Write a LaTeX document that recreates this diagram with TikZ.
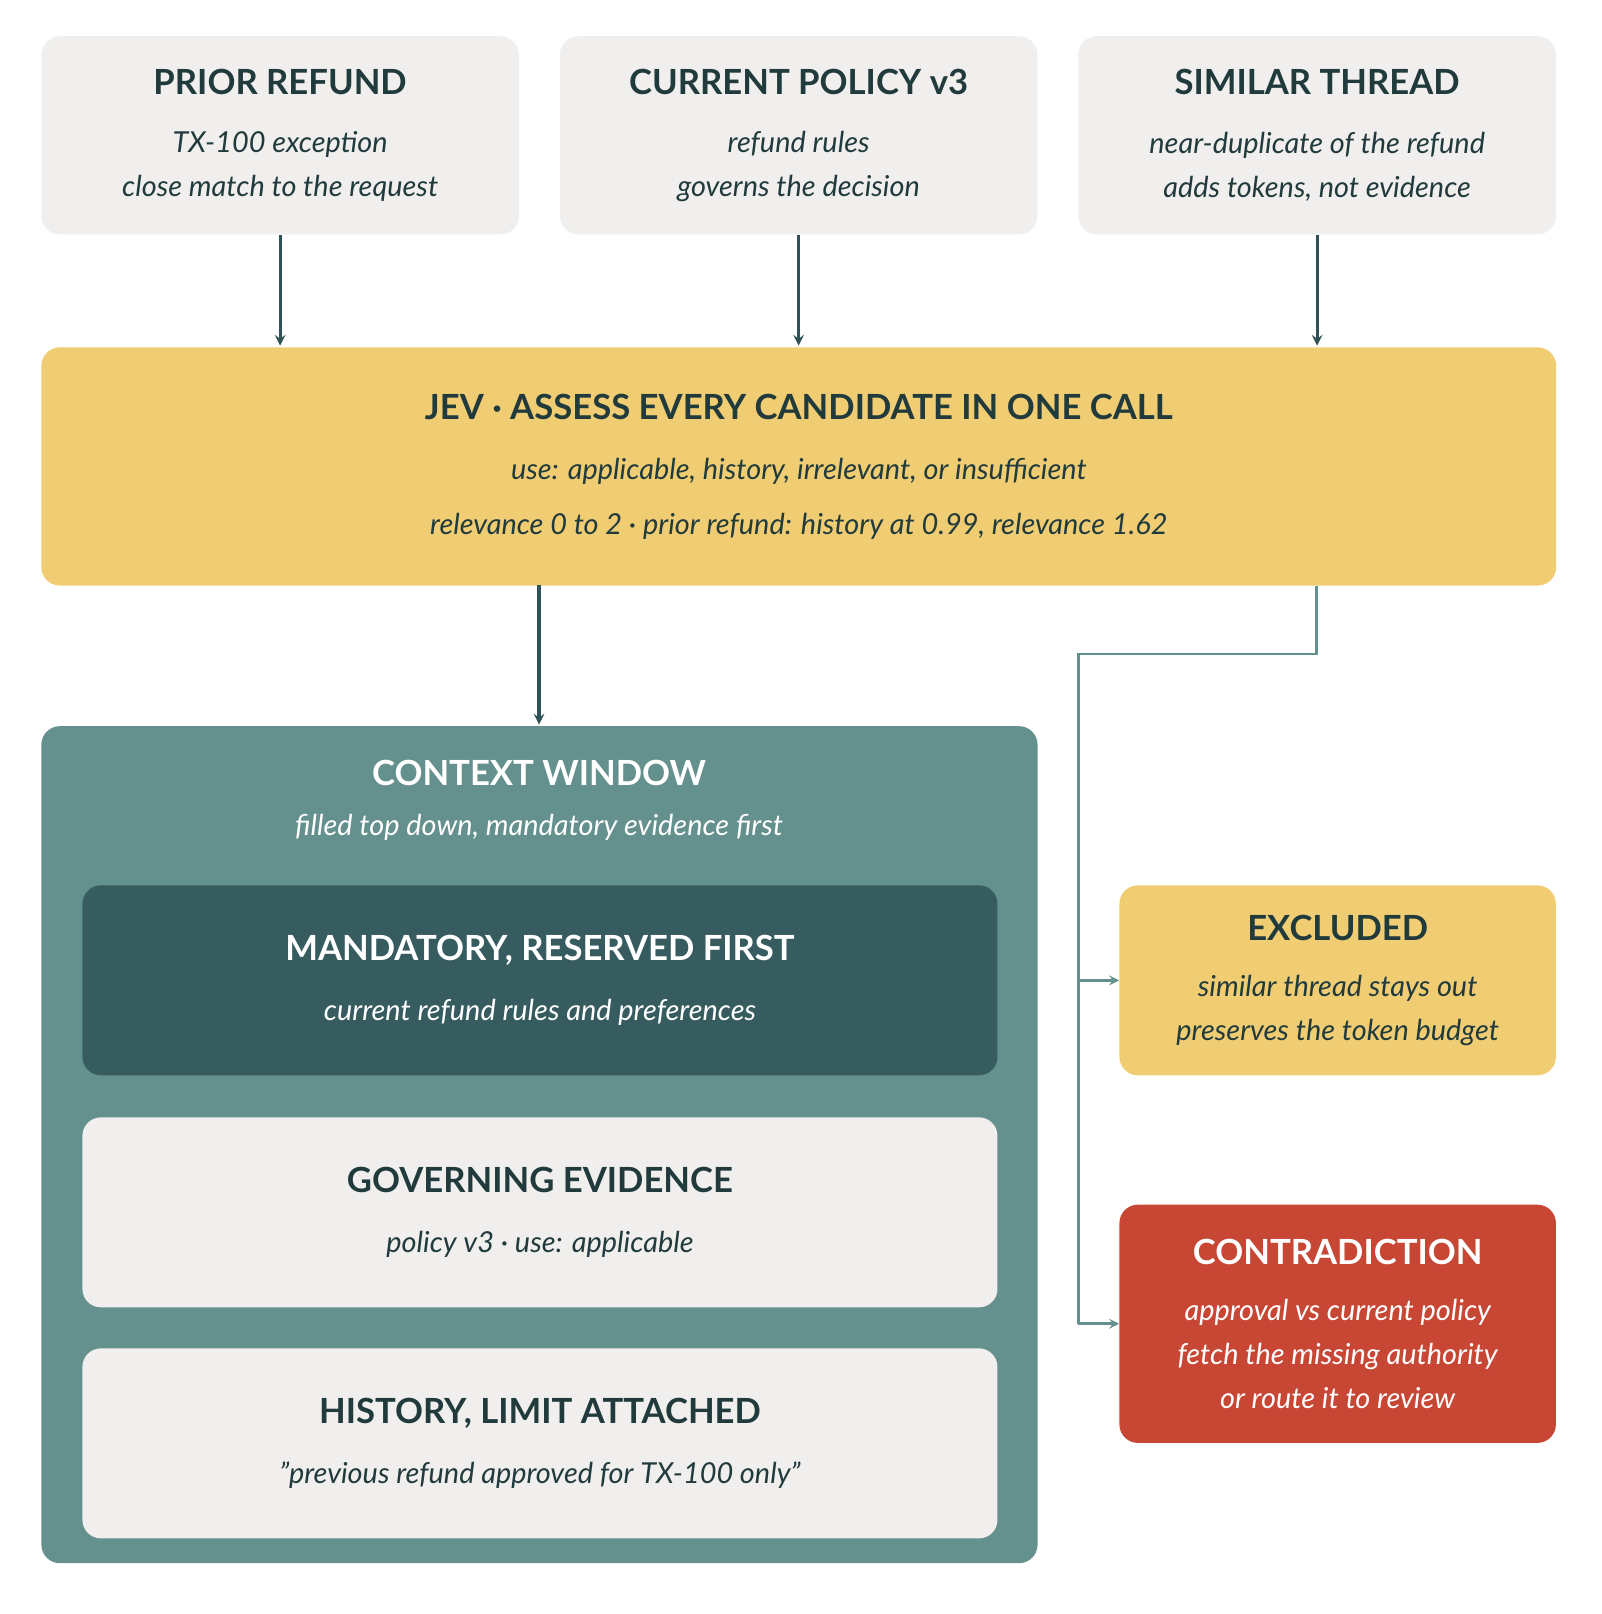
\documentclass[tikz,border=0pt]{standalone}
\usepackage{fontspec}
\setmainfont{Lato}
\usetikzlibrary{positioning}
\definecolor{ink}{HTML}{213A3C}
\definecolor{arr}{HTML}{2F5257}
\definecolor{tealmid}{HTML}{64908D}
\definecolor{tealdark}{HTML}{365C60}
\definecolor{paper}{HTML}{F0EFED}
\definecolor{gold}{HTML}{F0CD72}
\definecolor{brick}{HTML}{C84634}
\newcommand{\ttlfont}{\fontsize{24}{30}\selectfont\bfseries\upshape}
\begin{document}
\begin{tikzpicture}[x=0.025cm,y=-0.025cm,>=stealth,
  box/.style={anchor=north west,rounded corners=0.45cm,inner sep=0pt,align=center,text=ink,
    font=\fontsize{20}{30.5}\selectfont\itshape},
  link/.style={->,draw=arr,line width=2.2pt,shorten >=1pt},
  side/.style={->,draw=tealmid,line width=2pt}]
  \useasboundingbox (0,0) rectangle (1560,1572);

  % sources
  \node[box,fill=paper,minimum width=11.625cm,minimum height=4.825cm] (prior) at (40,35)
    {{\ttlfont PRIOR REFUND}\\[0.35cm]TX-100 exception\\close match to the request};
  \node[box,fill=paper,minimum width=11.625cm,minimum height=4.825cm] (policy) at (545,35)
    {{\ttlfont CURRENT POLICY v3}\\[0.35cm]refund rules\\governs the decision};
  \node[box,fill=paper,minimum width=11.625cm,minimum height=4.825cm] (thread) at (1050,35)
    {{\ttlfont SIMILAR THREAD}\\[0.35cm]near-duplicate of the refund\\adds tokens, not evidence};

  % assessment
  \node[box,fill=gold,minimum width=36.875cm,minimum height=5.8cm] (jev) at (40,338)
    {{\ttlfont JEV · ASSESS EVERY CANDIDATE IN ONE CALL}\\[0.4cm]
     use: applicable, history, irrelevant, or insufficient\\[0.25cm]
     relevance 0 to 2 · prior refund: history at 0.99, relevance 1.62};

  % context window
  \node[box,fill=tealmid,minimum width=24.25cm,minimum height=20.375cm] (ctx) at (40,707) {};
  \node[box,anchor=north,text=white] (ctxt) at (525,740)
    {{\ttlfont CONTEXT WINDOW}\\[0.15cm]filled top down, mandatory evidence first};
  \node[box,fill=tealdark,text=white,minimum width=22.275cm,minimum height=4.625cm] (mand) at (80,862)
    {{\ttlfont MANDATORY, RESERVED FIRST}\\[0.4cm]current refund rules and preferences};
  \node[box,fill=paper,minimum width=22.275cm,minimum height=4.625cm] (gov) at (80,1088)
    {{\ttlfont GOVERNING EVIDENCE}\\[0.4cm]policy v3 · use: applicable};
  \node[box,fill=paper,minimum width=22.275cm,minimum height=4.625cm] (hist) at (80,1313)
    {{\ttlfont HISTORY, LIMIT ATTACHED}\\[0.4cm]"previous refund approved for TX-100 only"};

  % side outcomes
  \node[box,fill=gold,minimum width=10.625cm,minimum height=4.625cm] (excl) at (1090,862)
    {{\ttlfont EXCLUDED}\\[0.3cm]similar thread stays out\\preserves the token budget};
  \node[box,fill=brick,text=white,minimum width=10.625cm,minimum height=5.8cm] (contra) at (1090,1173)
    {{\ttlfont CONTRADICTION}\\[0.3cm]approval vs current policy\\fetch the missing authority\\or route it to review};

  \coordinate (bend) at (1282,637);
  \coordinate (trunk) at (1050,637);
  \coordinate (drop) at (525,570);

  \draw[link] (prior.south) -- (prior.south |- jev.north);
  \draw[link] (policy.south) -- (policy.south |- jev.north);
  \draw[link] (thread.south) -- (thread.south |- jev.north);
  \draw[link] (drop) -- (drop |- ctx.north);
  \draw[tealmid,line width=2pt] (jev.south -| bend) -- (bend) -- (trunk) -- (trunk |- contra.west);
  \draw[side] (trunk |- excl.west) -- (excl.west);
  \draw[side] (trunk |- contra.west) -- (contra.west);
\end{tikzpicture}
\end{document}
